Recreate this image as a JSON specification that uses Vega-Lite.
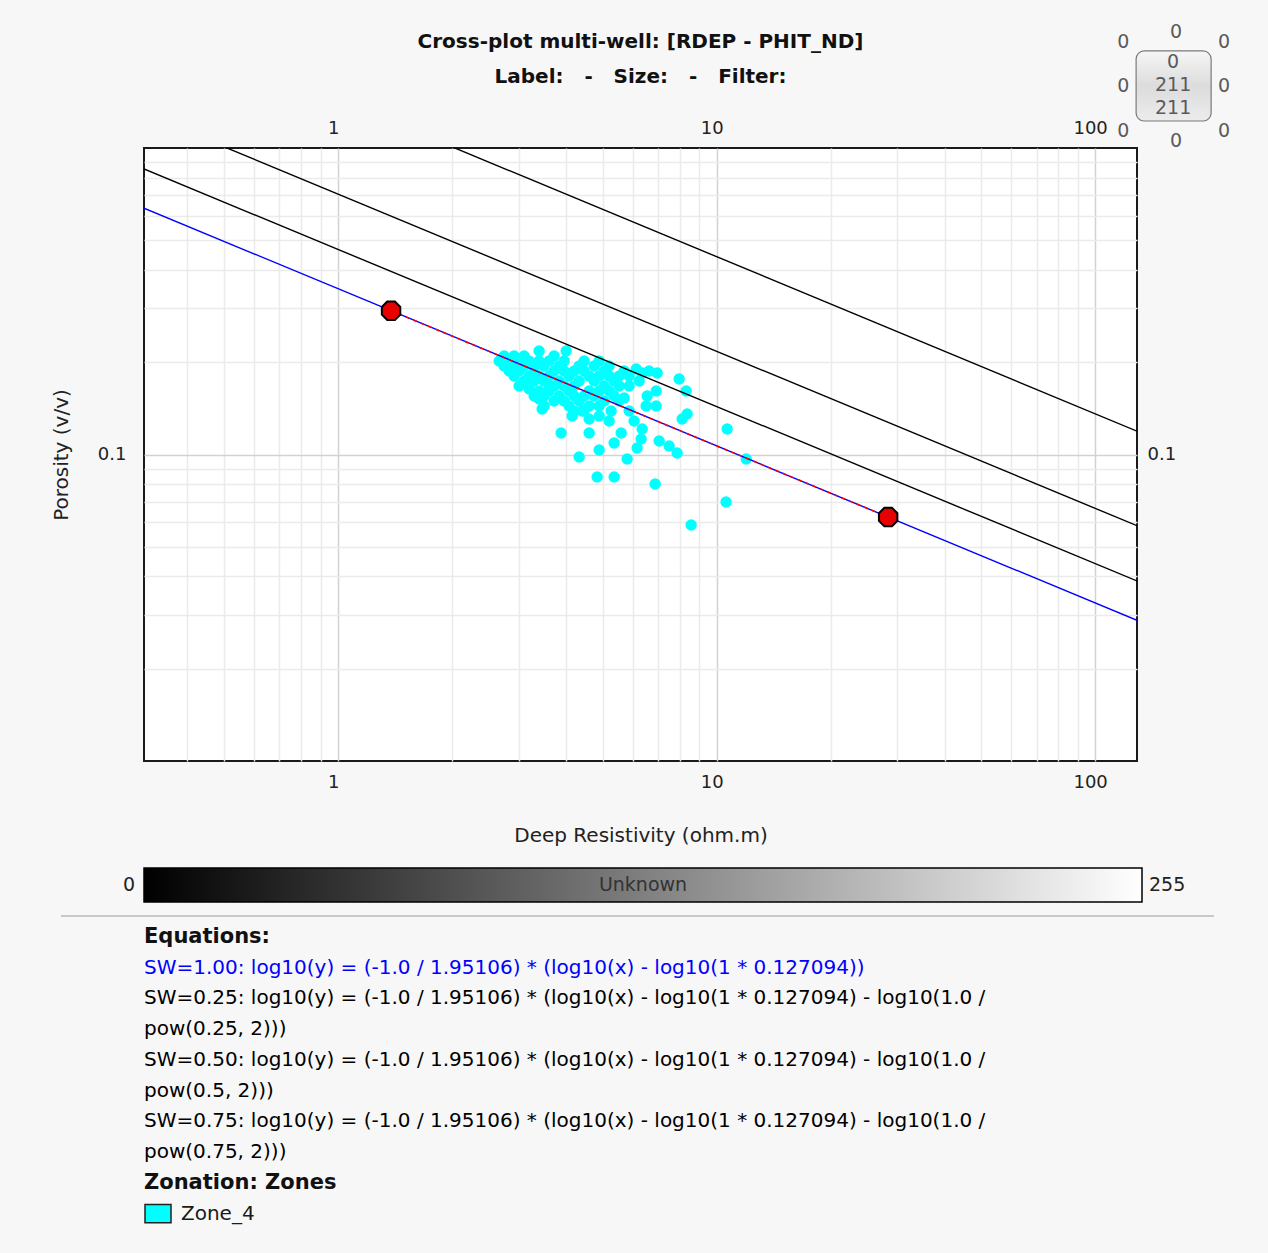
{
  "$schema": "https://vega.github.io/schema/vega-lite/v6.json",
  "background": "#f7f7f7",
  "padding": {"left": 50, "top": 22, "right": 38, "bottom": 22},
  "spacing": 12,
  "config": {
    "font": "DejaVu Sans",
    "view": {"stroke": null},
    "axis": {"labelFont": "DejaVu Sans", "titleFont": "DejaVu Sans", "labelFontSize": 18, "labelColor": "#222222", "titleColor": "#222222"},
    "text": {"font": "DejaVu Sans"}
  },
  "datasets": {
    "lines": [
      {"sw": "1.00", "rdep": 0.307, "phit": 0.6363}, {"sw": "1.00", "rdep": 129, "phit": 0.02877},
      {"sw": "0.75", "rdep": 0.307, "phit": 0.8546}, {"sw": "0.75", "rdep": 129, "phit": 0.03867},
      {"sw": "0.50", "rdep": 0.307, "phit": 1.2952}, {"sw": "0.50", "rdep": 129, "phit": 0.05857},
      {"sw": "0.25", "rdep": 0.307, "phit": 2.636}, {"sw": "0.25", "rdep": 129, "phit": 0.11918}
    ],
    "picks": [{"rdep": 1.38, "phit": 0.2944}, {"rdep": 28.39, "phit": 0.0625}],
    "zone": [
      {"rdep": 2.745, "phit": 0.2097}, {"rdep": 2.83, "phit": 0.2019}, {"rdep": 2.917, "phit": 0.2097}, {"rdep": 3.008, "phit": 0.2019},
      {"rdep": 3.1, "phit": 0.1944}, {"rdep": 2.745, "phit": 0.1944}, {"rdep": 2.83, "phit": 0.1873}, {"rdep": 2.917, "phit": 0.1804},
      {"rdep": 3.008, "phit": 0.1873}, {"rdep": 3.196, "phit": 0.2019}, {"rdep": 3.295, "phit": 0.1944}, {"rdep": 3.396, "phit": 0.2019},
      {"rdep": 3.501, "phit": 0.1944}, {"rdep": 3.61, "phit": 0.2019}, {"rdep": 3.721, "phit": 0.2097}, {"rdep": 3.196, "phit": 0.1804},
      {"rdep": 3.295, "phit": 0.1737}, {"rdep": 3.396, "phit": 0.1804}, {"rdep": 3.501, "phit": 0.1737}, {"rdep": 3.61, "phit": 0.1804},
      {"rdep": 3.721, "phit": 0.1873}, {"rdep": 3.836, "phit": 0.1944}, {"rdep": 3.955, "phit": 0.1873}, {"rdep": 4.077, "phit": 0.1804},
      {"rdep": 4.203, "phit": 0.1873}, {"rdep": 4.333, "phit": 0.1944}, {"rdep": 4.467, "phit": 0.1873}, {"rdep": 4.605, "phit": 0.1804},
      {"rdep": 4.747, "phit": 0.1737}, {"rdep": 4.894, "phit": 0.1804}, {"rdep": 5.045, "phit": 0.1873}, {"rdep": 5.2, "phit": 0.1804},
      {"rdep": 5.361, "phit": 0.1737}, {"rdep": 5.527, "phit": 0.1804}, {"rdep": 4.467, "phit": 0.2019}, {"rdep": 4.333, "phit": 0.1737},
      {"rdep": 4.203, "phit": 0.1673}, {"rdep": 4.077, "phit": 0.1611}, {"rdep": 3.955, "phit": 0.1673}, {"rdep": 3.836, "phit": 0.1737},
      {"rdep": 3.721, "phit": 0.1673}, {"rdep": 3.61, "phit": 0.1611}, {"rdep": 3.501, "phit": 0.1552}, {"rdep": 3.396, "phit": 0.1611},
      {"rdep": 3.295, "phit": 0.1552}, {"rdep": 3.836, "phit": 0.1552}, {"rdep": 3.955, "phit": 0.1495}, {"rdep": 4.203, "phit": 0.1552},
      {"rdep": 4.333, "phit": 0.1495}, {"rdep": 4.467, "phit": 0.1552}, {"rdep": 4.605, "phit": 0.1611}, {"rdep": 4.747, "phit": 0.1552},
      {"rdep": 4.894, "phit": 0.1611}, {"rdep": 5.045, "phit": 0.1673}, {"rdep": 5.2, "phit": 0.1611}, {"rdep": 5.361, "phit": 0.1552},
      {"rdep": 5.527, "phit": 0.1495}, {"rdep": 4.894, "phit": 0.1439}, {"rdep": 5.045, "phit": 0.1495}, {"rdep": 4.605, "phit": 0.1439},
      {"rdep": 4.467, "phit": 0.1386}, {"rdep": 4.203, "phit": 0.1386}, {"rdep": 4.077, "phit": 0.1439}, {"rdep": 3.721, "phit": 0.1495},
      {"rdep": 3.501, "phit": 0.1439}, {"rdep": 3.396, "phit": 0.1518}, {"rdep": 4.894, "phit": 0.2019}, {"rdep": 5.2, "phit": 0.1944},
      {"rdep": 5.698, "phit": 0.1873}, {"rdep": 5.874, "phit": 0.1804}, {"rdep": 5.527, "phit": 0.1673}, {"rdep": 3.1, "phit": 0.1737},
      {"rdep": 3.008, "phit": 0.1673}, {"rdep": 3.196, "phit": 0.1635}, {"rdep": 2.917, "phit": 0.1944}, {"rdep": 2.664, "phit": 0.2019},
      {"rdep": 3.396, "phit": 0.2176}, {"rdep": 4.004, "phit": 0.2176}, {"rdep": 3.1, "phit": 0.2097}, {"rdep": 3.61, "phit": 0.1673},
      {"rdep": 3.955, "phit": 0.2019}, {"rdep": 4.747, "phit": 0.1944}, {"rdep": 3.295, "phit": 0.1873},
      {"rdep": 6.13, "phit": 0.1901}, {"rdep": 6.357, "phit": 0.1845}, {"rdep": 6.965, "phit": 0.1845}, {"rdep": 7.96, "phit": 0.1763},
      {"rdep": 8.308, "phit": 0.1611}, {"rdep": 6.923, "phit": 0.1611}, {"rdep": 5.698, "phit": 0.1529}, {"rdep": 6.513, "phit": 0.1439},
      {"rdep": 6.923, "phit": 0.1439}, {"rdep": 8.359, "phit": 0.1355}, {"rdep": 8.109, "phit": 0.1305}, {"rdep": 10.66, "phit": 0.1211},
      {"rdep": 3.883, "phit": 0.1175}, {"rdep": 4.605, "phit": 0.1175}, {"rdep": 5.595, "phit": 0.1175}, {"rdep": 5.361, "phit": 0.109},
      {"rdep": 6.357, "phit": 0.1211}, {"rdep": 6.318, "phit": 0.1124}, {"rdep": 6.166, "phit": 0.105}, {"rdep": 7.05, "phit": 0.1107},
      {"rdep": 7.49, "phit": 0.1066}, {"rdep": 7.864, "phit": 0.1011}, {"rdep": 4.894, "phit": 0.1034}, {"rdep": 4.333, "phit": 0.0981},
      {"rdep": 5.801, "phit": 0.0967}, {"rdep": 11.97, "phit": 0.0967}, {"rdep": 4.834, "phit": 0.0845}, {"rdep": 5.361, "phit": 0.0845},
      {"rdep": 6.88, "phit": 0.0801}, {"rdep": 10.59, "phit": 0.07}, {"rdep": 8.564, "phit": 0.0589}, {"rdep": 3.459, "phit": 0.1407},
      {"rdep": 4.152, "phit": 0.1335}, {"rdep": 4.605, "phit": 0.1305}, {"rdep": 4.413, "phit": 0.1386}, {"rdep": 3.396, "phit": 0.1529},
      {"rdep": 5.874, "phit": 0.1386}, {"rdep": 6.053, "phit": 0.1286}, {"rdep": 5.263, "phit": 0.1386}, {"rdep": 6.554, "phit": 0.1552},
      {"rdep": 5.874, "phit": 0.1673}, {"rdep": 6.242, "phit": 0.1737}, {"rdep": 6.633, "phit": 0.1873}, {"rdep": 5.2, "phit": 0.1286},
      {"rdep": 4.894, "phit": 0.1335}
    ],
    "widgetBox": [{"rdep": 128.3, "rdep2": 202.5, "phit": 2.073, "phit2": 1.225}],
    "widgetText": [
      {"rdep": 118.6, "phit": 2.218, "label": "0"}, {"rdep": 163.7, "phit": 2.39, "label": "0"}, {"rdep": 219.2, "phit": 2.218, "label": "0"},
      {"rdep": 118.6, "phit": 1.593, "label": "0"}, {"rdep": 219.2, "phit": 1.593, "label": "0"},
      {"rdep": 118.6, "phit": 1.136, "label": "0"}, {"rdep": 163.7, "phit": 1.054, "label": "0"}, {"rdep": 219.2, "phit": 1.136, "label": "0"},
      {"rdep": 160.7, "phit": 1.909, "label": "0"}, {"rdep": 160.7, "phit": 1.605, "label": "211"}, {"rdep": 160.7, "phit": 1.351, "label": "211"}
    ],
    "bar": [{"lo": 0, "hi": 255, "mid": 127.5, "label": "Unknown"}],
    "separator": [{"xa": -0.0776, "xb": 1.0, "row": -0.68}],
    "equations": [
      {"row": 0, "style": "heading", "text": "Equations:"},
      {"row": 1, "style": "blue", "text": "SW=1.00: log10(y) = (-1.0 / 1.95106) * (log10(x) - log10(1 * 0.127094))"},
      {"row": 2, "style": "normal", "text": "SW=0.25: log10(y) = (-1.0 / 1.95106) * (log10(x) - log10(1 * 0.127094) - log10(1.0 /"},
      {"row": 3, "style": "normal", "text": "pow(0.25, 2)))"},
      {"row": 4, "style": "normal", "text": "SW=0.50: log10(y) = (-1.0 / 1.95106) * (log10(x) - log10(1 * 0.127094) - log10(1.0 /"},
      {"row": 5, "style": "normal", "text": "pow(0.5, 2)))"},
      {"row": 6, "style": "normal", "text": "SW=0.75: log10(y) = (-1.0 / 1.95106) * (log10(x) - log10(1 * 0.127094) - log10(1.0 /"},
      {"row": 7, "style": "normal", "text": "pow(0.75, 2)))"},
      {"row": 8, "style": "heading", "text": "Zonation: Zones"},
      {"row": 9, "style": "zone", "text": "Zone_4"}
    ]
  },
  "vconcat": [
    {
      "width": 993,
      "height": 613,
      "view": {"stroke": "#1a1a1a", "strokeWidth": 2, "fill": "#ffffff"},
      "title": {
        "text": "Cross-plot multi-well: [RDEP - PHIT_ND]",
        "subtitle": "Label:\u00a0\u00a0\u00a0-\u00a0\u00a0\u00a0Size:\u00a0\u00a0\u00a0-\u00a0\u00a0\u00a0Filter:",
        "font": "DejaVu Sans", "subtitleFont": "DejaVu Sans",
        "fontSize": 20, "subtitleFontSize": 20, "fontWeight": "bold", "subtitleFontWeight": "bold",
        "color": "#111111", "subtitleColor": "#111111", "subtitlePadding": 15,
        "anchor": "middle", "offset": -64
      },
      "resolve": {"axis": {"x": "independent", "y": "independent"}},
      "layer": [
        {
          "data": {"name": "zone"},
          "mark": {"type": "circle", "size": 130, "color": "#00ffff", "opacity": 1, "clip": true},
          "encoding": {
            "x": {"field": "rdep", "type": "quantitative", "scale": {"type": "log", "domain": [0.307, 129], "nice": false},
              "axis": {"orient": "top", "values": [1, 10, 100], "format": "~g", "grid": false, "ticks": false, "domain": false, "labelPadding": 11, "labelOffset": -5, "labelFlush": false, "labelOverlap": false, "title": null}},
            "y": {"field": "phit", "type": "quantitative", "scale": {"type": "log", "domain": [0.01, 1], "nice": false},
              "axis": {"orient": "right", "values": [0.1], "format": "~g", "grid": false, "ticks": false, "domain": false, "labelPadding": 10, "labelFlush": false, "title": null}}
          }
        },
        {
          "data": {"name": "lines"},
          "mark": {"type": "line", "strokeWidth": 1.4, "clip": true},
          "encoding": {
            "x": {"field": "rdep", "type": "quantitative", "scale": {"type": "log", "domain": [0.307, 129], "nice": false},
              "axis": {"orient": "bottom", "values": [0.4, 0.5, 0.6, 0.7, 0.8, 0.9, 1, 2, 3, 4, 5, 6, 7, 8, 9, 10, 20, 30, 40, 50, 60, 70, 80, 90, 100],
                "format": "~g", "labelExpr": "datum.value == 1 || datum.value == 10 || datum.value == 100 ? datum.label : ''",
                "grid": true, "gridColor": {"condition": {"test": "datum.value == 1 || datum.value == 10 || datum.value == 100", "value": "#d2d2d2"}, "value": "#ebebeb"},
                "gridWidth": 1.5, "ticks": false, "domain": false, "labelPadding": 12, "labelOffset": -5, "labelFlush": false, "labelOverlap": false,
                "title": "Deep Resistivity (ohm.m)", "titlePadding": 34, "titleFontSize": 20, "titleFontWeight": "normal"}},
            "y": {"field": "phit", "type": "quantitative", "scale": {"type": "log", "domain": [0.01, 1], "nice": false},
              "axis": {"orient": "left", "values": [0.02, 0.03, 0.04, 0.05, 0.06, 0.07, 0.08, 0.09, 0.1, 0.2, 0.3, 0.4, 0.5, 0.6, 0.7, 0.8, 0.9],
                "format": "~g", "labelExpr": "datum.value == 0.1 ? datum.label : ''",
                "grid": true, "gridColor": {"condition": {"test": "datum.value == 0.1", "value": "#d2d2d2"}, "value": "#ebebeb"},
                "gridWidth": 1.5, "ticks": false, "domain": false, "labelPadding": 18, "labelFlush": false, "labelOverlap": false,
                "title": "Porosity (v/v)", "titlePadding": 26, "titleFontSize": 20, "titleFontWeight": "normal"}},
            "color": {"field": "sw", "type": "nominal", "scale": {"domain": ["1.00", "0.75", "0.50", "0.25"], "range": ["#0000ff", "#000000", "#000000", "#000000"]}, "legend": null}
          }
        },
        {
          "data": {"name": "picks"},
          "mark": {"type": "line", "color": "#ff0000", "strokeWidth": 1.5, "strokeDash": [4, 4]},
          "encoding": {
            "x": {"field": "rdep", "type": "quantitative", "scale": {"type": "log", "domain": [0.307, 129], "nice": false}, "axis": null},
            "y": {"field": "phit", "type": "quantitative", "scale": {"type": "log", "domain": [0.01, 1], "nice": false}, "axis": null}
          }
        },
        {
          "data": {"name": "picks"},
          "mark": {"type": "point", "shape": "M-0.414,-1L0.414,-1L1,-0.414L1,0.414L0.414,1L-0.414,1L-1,0.414L-1,-0.414Z", "filled": true, "fill": "#e80000", "stroke": "#000000", "strokeWidth": 2, "size": 340, "opacity": 1},
          "encoding": {
            "x": {"field": "rdep", "type": "quantitative", "scale": {"type": "log", "domain": [0.307, 129], "nice": false}, "axis": null},
            "y": {"field": "phit", "type": "quantitative", "scale": {"type": "log", "domain": [0.01, 1], "nice": false}, "axis": null}
          }
        },
        {
          "data": {"name": "widgetBox"},
          "mark": {"type": "rect", "cornerRadius": 8, "stroke": "#7a7a7a", "strokeWidth": 1.2, "clip": false,
            "fill": {"gradient": "linear", "x1": 0, "y1": 0, "x2": 0, "y2": 1, "stops": [{"offset": 0, "color": "#f6f6f6"}, {"offset": 0.5, "color": "#dcdcdc"}, {"offset": 1, "color": "#ececec"}]}},
          "encoding": {
            "x": {"field": "rdep", "type": "quantitative", "scale": {"type": "log", "domain": [0.307, 129], "nice": false}, "axis": null},
            "x2": {"field": "rdep2"},
            "y": {"field": "phit", "type": "quantitative", "scale": {"type": "log", "domain": [0.01, 1], "nice": false}, "axis": null},
            "y2": {"field": "phit2"}
          }
        },
        {
          "data": {"name": "widgetText"},
          "mark": {"type": "text", "fontSize": 19, "color": "#5a5a5a", "align": "center", "baseline": "middle", "clip": false},
          "encoding": {
            "x": {"field": "rdep", "type": "quantitative", "scale": {"type": "log", "domain": [0.307, 129], "nice": false}, "axis": null},
            "y": {"field": "phit", "type": "quantitative", "scale": {"type": "log", "domain": [0.01, 1], "nice": false}, "axis": null},
            "text": {"field": "label"}
          }
        }
      ]
    },
    {
      "width": 998,
      "height": 34,
      "view": {"stroke": null},
      "data": {"name": "bar"},
      "layer": [
        {
          "mark": {"type": "rect", "stroke": "#000000", "strokeWidth": 1.5,
            "color": {"gradient": "linear", "x1": 0, "y1": 0, "x2": 1, "y2": 0, "stops": [{"offset": 0, "color": "#000000"}, {"offset": 1, "color": "#ffffff"}]}},
          "encoding": {
            "x": {"field": "lo", "type": "quantitative", "scale": {"domain": [0, 255], "nice": false, "zero": false},
              "axis": {"orient": "top", "labels": false, "ticks": false, "domain": false, "grid": false, "title": null, "minExtent": 10, "maxExtent": 10}},
            "x2": {"field": "hi"}
          }
        },
        {
          "mark": {"type": "text", "fontSize": 19, "color": "#333333", "baseline": "middle"},
          "encoding": {"x": {"field": "mid", "type": "quantitative"}, "text": {"field": "label"}}
        },
        {
          "mark": {"type": "text", "fontSize": 19, "color": "#222222", "align": "right", "dx": -9, "baseline": "middle"},
          "encoding": {"x": {"field": "lo", "type": "quantitative"}, "text": {"field": "lo"}}
        },
        {
          "mark": {"type": "text", "fontSize": 19, "color": "#222222", "align": "left", "dx": 7, "baseline": "middle"},
          "encoding": {"x": {"field": "hi", "type": "quantitative"}, "text": {"field": "hi"}}
        }
      ]
    },
    {
      "width": 1070,
      "height": 312,
      "view": {"stroke": null},
      "layer": [
        {
          "data": {"name": "separator"},
          "mark": {"type": "rule", "color": "#c8c8c8", "strokeWidth": 2},
          "encoding": {
            "x": {"field": "xa", "type": "quantitative", "scale": {"domain": [0, 1], "nice": false, "zero": false}, "axis": null},
            "x2": {"field": "xb"},
            "y": {"field": "row", "type": "quantitative", "scale": {"domain": [-0.55, 9.6], "nice": false, "zero": false, "reverse": true}, "axis": null}
          }
        },
        {
          "data": {"name": "equations"},
          "transform": [{"filter": "datum.style == 'heading'"}],
          "mark": {"type": "text", "align": "left", "baseline": "middle", "fontSize": 21, "fontWeight": "bold", "color": "#111111"},
          "encoding": {
            "x": {"datum": 0, "type": "quantitative", "scale": {"domain": [0, 1], "nice": false, "zero": false}, "axis": null},
            "y": {"field": "row", "type": "quantitative", "scale": {"domain": [-0.55, 9.6], "nice": false, "zero": false, "reverse": true}, "axis": null},
            "text": {"field": "text"}
          }
        },
        {
          "data": {"name": "equations"},
          "transform": [{"filter": "datum.style == 'blue' || datum.style == 'normal'"}],
          "mark": {"type": "text", "align": "left", "baseline": "middle", "fontSize": 20},
          "encoding": {
            "x": {"datum": 0, "type": "quantitative", "scale": {"domain": [0, 1], "nice": false, "zero": false}, "axis": null},
            "y": {"field": "row", "type": "quantitative", "scale": {"domain": [-0.55, 9.6], "nice": false, "zero": false, "reverse": true}, "axis": null},
            "text": {"field": "text"},
            "color": {"field": "style", "type": "nominal", "scale": {"domain": ["blue", "normal"], "range": ["#3838f5", "#1a1a1a"]}, "legend": null}
          }
        },
        {
          "data": {"name": "equations"},
          "transform": [{"filter": "datum.style == 'zone'"}],
          "mark": {"type": "point", "shape": "M-1,-0.7L1,-0.7L1,0.7L-1,0.7Z", "filled": true, "fill": "#00ffff", "stroke": "#222222", "strokeWidth": 1.5, "size": 676, "opacity": 1, "xOffset": 14},
          "encoding": {
            "x": {"datum": 0, "type": "quantitative", "scale": {"domain": [0, 1], "nice": false, "zero": false}, "axis": null},
            "y": {"field": "row", "type": "quantitative", "scale": {"domain": [-0.55, 9.6], "nice": false, "zero": false, "reverse": true}, "axis": null}
          }
        },
        {
          "data": {"name": "equations"},
          "transform": [{"filter": "datum.style == 'zone'"}],
          "mark": {"type": "text", "align": "left", "baseline": "middle", "fontSize": 20, "color": "#1a1a1a", "dx": 37},
          "encoding": {
            "x": {"datum": 0, "type": "quantitative", "scale": {"domain": [0, 1], "nice": false, "zero": false}, "axis": null},
            "y": {"field": "row", "type": "quantitative", "scale": {"domain": [-0.55, 9.6], "nice": false, "zero": false, "reverse": true}, "axis": null},
            "text": {"field": "text"}
          }
        }
      ]
    }
  ]
}
